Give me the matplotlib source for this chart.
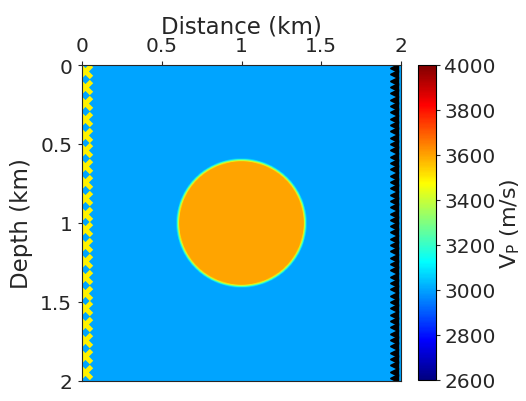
import numpy as np
import matplotlib
matplotlib.use("Agg")
import matplotlib.pyplot as plt
from matplotlib.colors import LinearSegmentedColormap

# model
v_background = 3000.0
v_anomaly = 3600.0
circle_center = (1.0, 1.0)   # (x, z) km
circle_radius = 0.4          # km
edge_width = 0.02            # km, smoothing of the circle boundary
x_extent = [0.0, 2.0]
z_extent = [0.0, 2.0]
dx = 0.005

# acquisition
src_x = 0.02
src_z = [0.04, 0.14, 0.24, 0.34, 0.44, 0.54, 0.64, 0.74, 0.84, 0.94,
         1.04, 1.14, 1.24, 1.34, 1.44, 1.54, 1.64, 1.74, 1.84, 1.94]
rec_x = 1.955
rec_z = [0.02, 0.06, 0.10, 0.14, 0.18, 0.22, 0.26, 0.30, 0.34, 0.38,
         0.42, 0.46, 0.50, 0.54, 0.58, 0.62, 0.66, 0.70, 0.74, 0.78,
         0.82, 0.86, 0.90, 0.94, 0.98, 1.02, 1.06, 1.10, 1.14, 1.18,
         1.22, 1.26, 1.30, 1.34, 1.38, 1.42, 1.46, 1.50, 1.54, 1.58,
         1.62, 1.66, 1.70, 1.74, 1.78, 1.82, 1.86, 1.90, 1.94, 1.98]

# matlab style jet
t = np.linspace(0, 1, 256)
r = np.clip(1.5 - np.abs(4 * t - 3), 0, 1)
g = np.clip(1.5 - np.abs(4 * t - 2), 0, 1)
b = np.clip(1.5 - np.abs(4 * t - 1), 0, 1)
mjet = LinearSegmentedColormap.from_list("mjet", np.column_stack([r, g, b]), N=256)

x = np.arange(x_extent[0], x_extent[1] + dx / 2, dx)
z = np.arange(z_extent[0], z_extent[1] + dx / 2, dx)
X, Z = np.meshgrid(x, z)
d = np.sqrt((X - circle_center[0])**2 + (Z - circle_center[1])**2)
frac = np.clip((circle_radius - d) / edge_width + 0.5, 0, 1)
vp = v_background + (v_anomaly - v_background) * frac

tc = "#262626"
fig = plt.figure(figsize=(5.26, 4.02), dpi=100)
ax = fig.add_axes([82/526, 1 - 382/402, 319/526, 316/402])
im = ax.imshow(vp, cmap=mjet, vmin=2600, vmax=4000, origin="upper",
               extent=[x[0], x[-1], z[-1], z[0]], interpolation="bilinear",
               aspect="auto")
ax.plot([src_x] * len(src_z), src_z, "x", color="#fff200", ms=9, mew=3.5)
ax.plot([rec_x] * len(rec_z), rec_z, "<", color="black", ms=6, mec="black")
ax.set_xlim(0, 2)
ax.set_ylim(2, 0)
ax.set_xticks([0, 0.5, 1, 1.5, 2])
ax.set_xticklabels(["0", "0.5", "1", "1.5", "2"])
ax.set_yticks([0, 0.5, 1, 1.5, 2])
ax.set_yticklabels(["0", "0.5", "1", "1.5", "2"])
ax.xaxis.tick_top()
ax.xaxis.set_label_position("top")
ax.tick_params(labelsize=14.5, direction="out", length=3, color=tc,
               labelcolor=tc, pad=4)
ax.set_xlabel("Distance (km)", fontsize=16.5, color=tc, labelpad=3)
ax.set_ylabel("Depth (km)", fontsize=16.5, color=tc, labelpad=5)
for s in ax.spines.values():
    s.set_color(tc)
    s.set_linewidth(0.8)

cax = fig.add_axes([418/526, 1 - 381/402, 18/526, 315/402])
cb = fig.colorbar(im, cax=cax)
cb.set_ticks(np.arange(2600, 4001, 200))
cb.ax.tick_params(labelsize=14.5, length=3, color=tc, labelcolor=tc, pad=3)
cb.set_label(r"V$_\mathrm{P}$ (m/s)", fontsize=16, color=tc, labelpad=2)
cb.outline.set_linewidth(0.8)

fig.savefig("out.png", dpi=100)
